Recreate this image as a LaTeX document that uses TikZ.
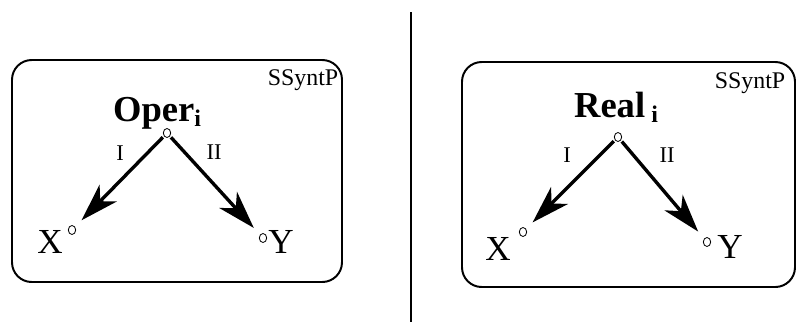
\documentclass[tikz,border=0pt]{standalone}
\usepackage{fontspec}
\setmainfont{Liberation Serif}
\usetikzlibrary{arrows.meta, shapes.geometric}

\newcommand{\lexsub}[1]{\raisebox{-0.35ex}{\fontsize{17}{17}\selectfont\bfseries #1}}

\tikzset{
	frame/.style={line width=1.4pt, rounded corners=14pt},
	knot/.style={ellipse, draw, line width=0.6pt, inner sep=0pt, minimum width=5.2pt, minimum height=6.4pt},
	rel/.style={-{Stealth[length=27pt, width=17pt, inset=8pt]}, line width=2.4pt, shorten <=1pt, shorten >=6.5pt},
	lex/.style={font=\fontsize{26}{30}\selectfont\bfseries, inner sep=0pt},
	word/.style={font=\fontsize{25}{28}\selectfont, inner sep=0pt},
	tag/.style={font=\fontsize{17}{19}\selectfont, inner sep=0pt},
	synt/.style={font=\fontsize{16}{18}\selectfont, inner sep=0pt}
}

\begin{document}
\begin{tikzpicture}[x=0.025cm, y=-0.025cm]
	\useasboundingbox (0,0) rectangle (796,324);

	% --- left panel: Oper_i ---
	\draw[frame] (12,60) rectangle (342,282);
	\node[tag, anchor=base] (lstruct) at (303,85) {SSyntP};
	\node[lex, anchor=base] (oper) at (157,121) {Oper\lexsub{i}};
	\node[knot] (lroot) at (167,133) {};
	\node[knot] (lx) at (72,230) {};
	\node[knot] (ly) at (263,238) {};
	\node[word, anchor=base] (lxword) at (50,253) {X};
	\node[word, anchor=base] (lyword) at (281,253) {Y};
	\node[synt, anchor=base] (lone) at (120,160) {I};
	\node[synt, anchor=base] (ltwo) at (214,159) {II};

	\draw[rel] (lroot) -- (lx);
	\draw[rel] (lroot) -- (ly);

	% --- divider ---
	\coordinate (top) at (411,12);
	\coordinate (bottom) at (411,322);
	\draw[line width=1.4pt] (top) -- (bottom);

	% --- right panel: Real_i ---
	\begin{scope}[xshift=450*0.025cm]
		\draw[frame] (12,62) rectangle (345,287);
		\node[tag, anchor=base] (rstruct) at (300,88) {SSyntP};
		\node[lex, anchor=base] (real) at (166,117) {Real\,\lexsub{i}};
		\node[knot] (rroot) at (168,137) {};
		\node[knot] (rx) at (73,232) {};
		\node[knot] (ry) at (257,242) {};
		\node[word, anchor=base] (rxword) at (48,260) {X};
		\node[word, anchor=base] (ryword) at (280,258) {Y};
		\node[synt, anchor=base] (rone) at (117,162) {I};
		\node[synt, anchor=base] (rtwo) at (217,162) {II};

		\draw[rel] (rroot) -- (rx);
		\draw[rel] (rroot) -- (ry);
	\end{scope}
\end{tikzpicture}
\end{document}
